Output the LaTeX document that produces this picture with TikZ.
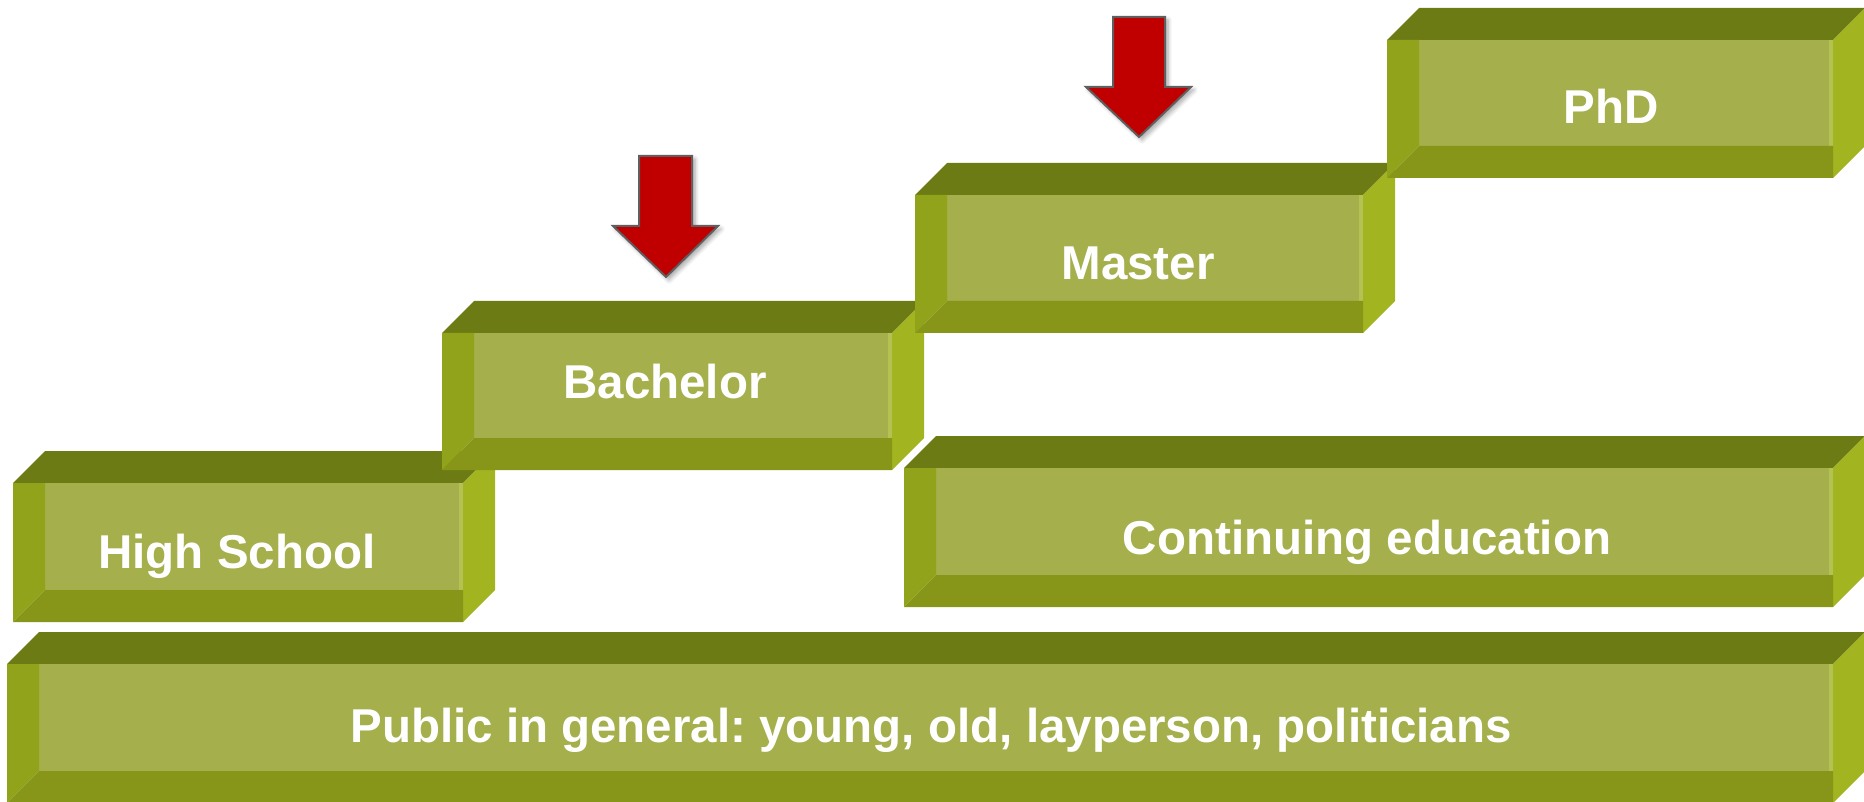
\documentclass[tikz,border=0pt]{standalone}
\usepackage{fontspec}
\setmainfont{Liberation Sans}
\usetikzlibrary{shadows.blur}
\frenchspacing
\definecolor{gtop}{HTML}{6D7B14}
\definecolor{gleft}{HTML}{91A31A}
\definecolor{gbot}{HTML}{879619}
\definecolor{gright}{HTML}{A2B41F}
\definecolor{gmid}{HTML}{A5AF4B}
\definecolor{ghi}{HTML}{B4C153}
\definecolor{ared}{HTML}{C00000}
\definecolor{aline}{HTML}{5F5F5F}
% #1 x1, #2 y1, #3 x2, #4 y2 (front face), #5 name
\newcommand\stepblock[5]{%
  \fill[gtop] (#1,#2) -- ({#1+32},{#2-32}) -- ({#3+32},{#2-32}) -- (#3,#2) -- cycle;
  \fill[gright] (#3,#2) -- ({#3+32},{#2-32}) -- ({#3+32},{#4-32}) -- (#3,#4) -- cycle;
  \fill[gmid] ({#1+32},#2) rectangle (#3,{#4-32});
  \fill[ghi] ({#3-4},#2) rectangle (#3,{#4-32});
  \fill[gleft] (#1,#2) -- ({#1+32},#2) -- ({#1+32},{#4-32}) -- (#1,#4) -- cycle;
  \fill[gbot] (#1,#4) -- ({#1+32},{#4-32}) -- (#3,{#4-32}) -- (#3,#4) -- cycle;
  \coordinate (#5) at ({(#1+#3)/2},{(#2+#4)/2});
}
\tikzset{
  lbl/.style={text=white, font=\bfseries\fontsize{23.75}{28}\selectfont, inner sep=0pt, anchor=base},
  redarrow/.style={fill=ared, draw=aline, line width=1pt, line join=miter,
    blur shadow={shadow xshift=1.5pt, shadow yshift=-1.5pt, shadow blur steps=6, shadow opacity=35}},
}
\begin{document}
\begin{tikzpicture}[x=0.5pt,y=-0.5pt]
\useasboundingbox (0,0) rectangle (1864,802);
\stepblock{13}{483}{463}{622}{hsbox}
\stepblock{442}{333}{892}{470}{babox}
\stepblock{915}{195}{1363}{333}{mabox}
\stepblock{1387}{40}{1833}{178}{phbox}
\stepblock{904}{468}{1833}{607}{cebox}
\stepblock{7}{664}{1833}{803}{pubox}

\node[lbl] (hs) at (237,568) {High School};
\node[lbl] (ba) at (665,398) {Bachelor};
\node[lbl] (ma) at (1138,280) {Master};
\node[lbl] (ph) at (1611,124) {PhD};
\node[lbl] (ce) at (1367,554) {Continuing education};
\node[lbl] (pu) at (931,742) {Public in general: young, old, layperson, politicians};

\draw[redarrow] (639,156) -- (692,156) -- (692,226) -- (718,226) -- (666,277) -- (613,226) -- (639,226) -- cycle;
\draw[redarrow] (1113,17) -- (1165,17) -- (1165,87) -- (1191,87) -- (1139,137) -- (1086,87) -- (1113,87) -- cycle;
\end{tikzpicture}
\end{document}
